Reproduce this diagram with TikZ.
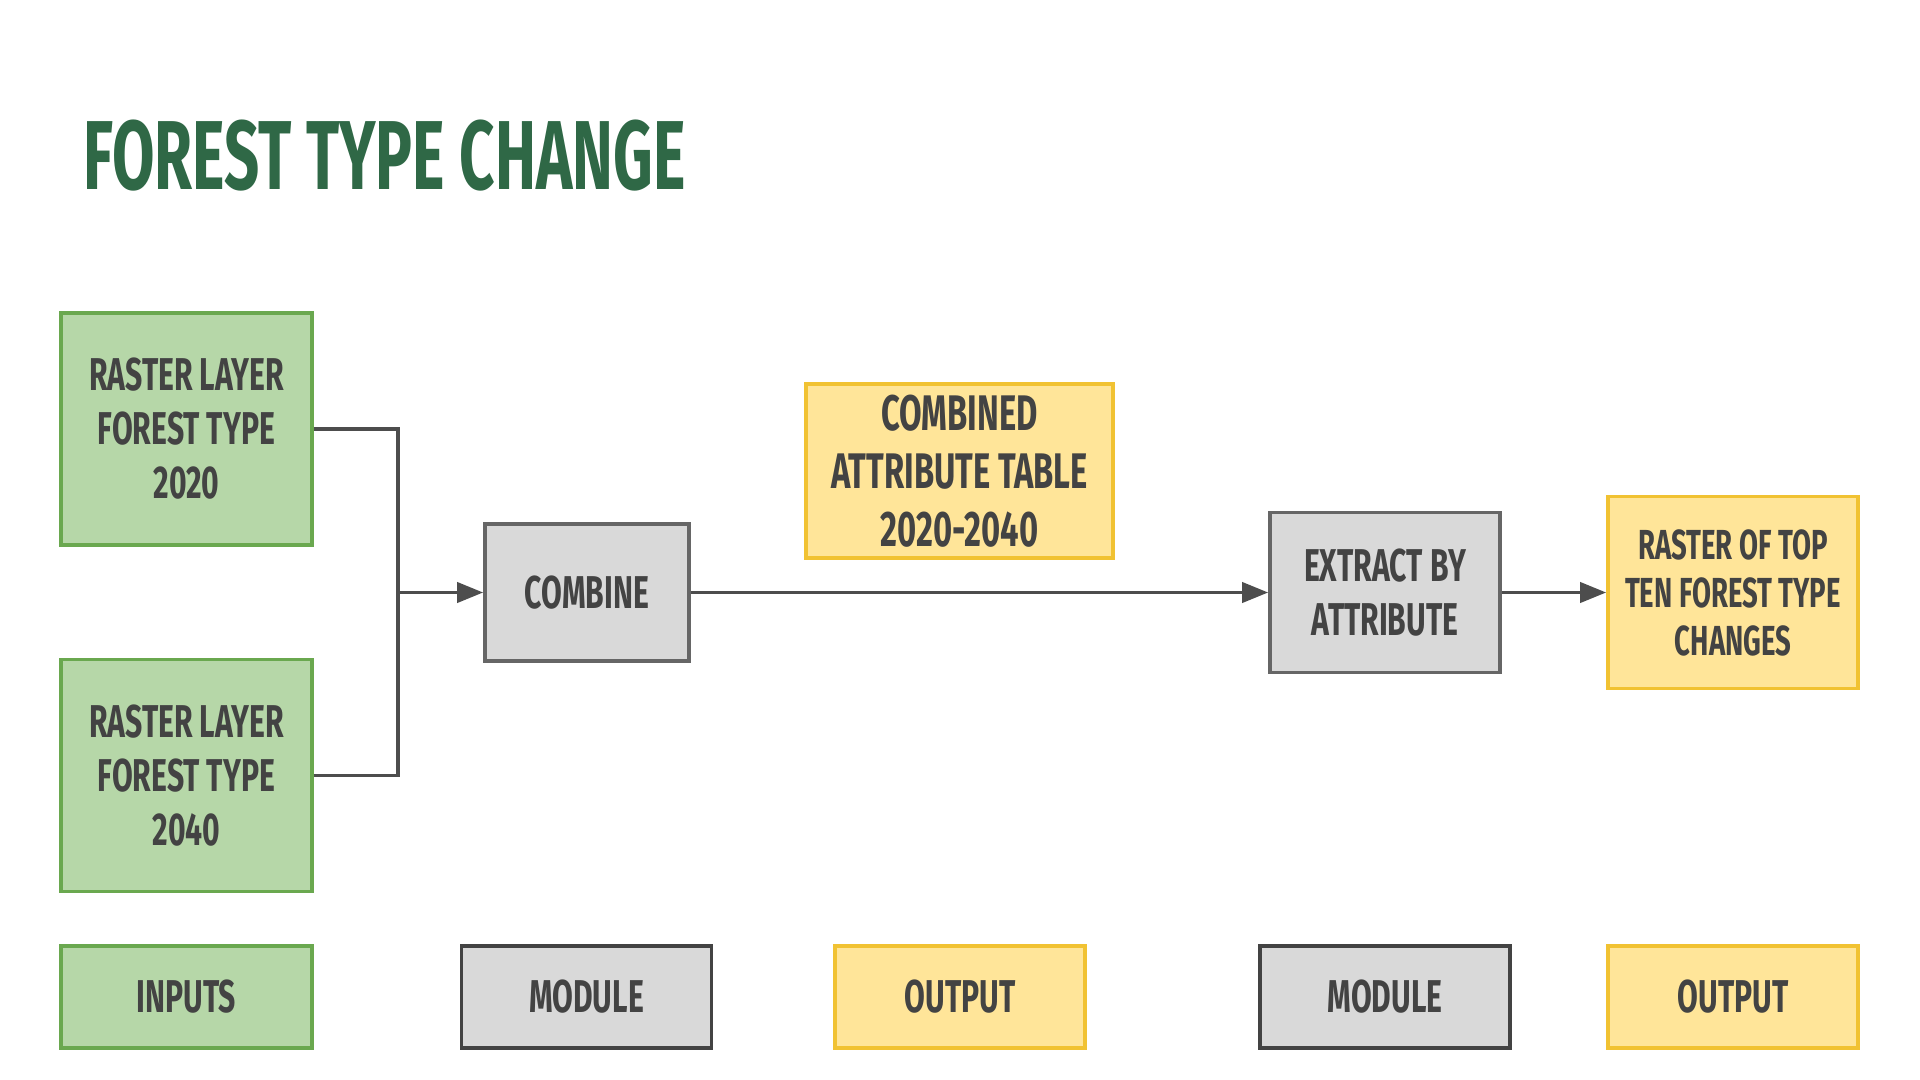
\documentclass[tikz,border=0pt]{standalone}
\usepackage{fontspec}
\usetikzlibrary{arrows.meta}
\newfontfamily\condfont{Fira Sans}[FakeStretch=0.655]
\newfontfamily\titlefont{Fira Sans}[FakeStretch=0.628]
\definecolor{titlegreen}{HTML}{2F6846}
\definecolor{gfill}{HTML}{B6D7A8}
\definecolor{gline}{HTML}{6AA84F}
\definecolor{grayfill}{HTML}{D9D9D9}
\definecolor{grayline}{HTML}{666666}
\definecolor{darkline}{HTML}{434343}
\definecolor{yfill}{HTML}{FFE599}
\definecolor{yline}{HTML}{F1C232}
\definecolor{txt}{HTML}{434343}
\definecolor{conn}{HTML}{4D4D4D}
\begin{document}
\begin{tikzpicture}[x=0.5pt,y=-0.5pt,
  box/.style={rectangle, line width=1.8pt, align=center, text=txt, inner sep=0pt,
    font=\condfont\bfseries\fontsize{23}{27}\selectfont},
  inbox/.style={box, draw=gline, fill=gfill},
  modbox/.style={box, draw=grayline, fill=grayfill},
  legmod/.style={box, draw=darkline, fill=grayfill},
  outbox/.style={box, draw=yline, fill=yfill},
  conn/.style={draw=conn, line width=1.9pt},
  arr/.style={conn, -{Triangle[length=13pt,width=10pt]}}
]
\useasboundingbox (0,0) rectangle (1920,1080);
\fill[white] (0,0) rectangle (1920,1080);
\node[anchor=base west, inner sep=0pt, text=titlegreen, font=\titlefont\bfseries\fontsize{49}{55}\selectfont] (title) at (83,190) {FOREST TYPE CHANGE};

\node[inbox, minimum width=125.5pt, minimum height=116pt] (r1) at (186.5,429) {RASTER LAYER\\FOREST TYPE\\2020};
\node[inbox, minimum width=125.5pt, minimum height=116pt] (r2) at (186.5,775.5) {RASTER LAYER\\FOREST TYPE\\2040};
\node[modbox, minimum width=102pt, minimum height=68.5pt] (comb) at (587,592.5) {COMBINE};
\node[outbox, minimum width=153.5pt, minimum height=87pt, font=\condfont\bfseries\fontsize{25}{29}\selectfont] (tab) at (959.5,471) {COMBINED\\ATTRIBUTE TABLE\\2020-2040};
\node[modbox, minimum width=115pt, minimum height=80pt] (ext) at (1385,592.5) {EXTRACT BY\\ATTRIBUTE};
\node[outbox, minimum width=125pt, minimum height=96pt, font=\condfont\bfseries\fontsize{21}{24}\selectfont] (ras) at (1733,592.5) {RASTER OF TOP\\TEN FOREST TYPE\\CHANGES};

\coordinate (bus) at (398,592.5);
\draw[conn] (r1.east) -| (bus);
\draw[conn] (r2.east) -| (bus);
\draw[arr] (bus) -- (comb.west);
\draw[arr] (comb.east) -- (ext.west);
\draw[arr] (ext.east) -- (ras.west);

\node[inbox, minimum width=125.5pt, minimum height=51pt] (l1) at (186.5,997) {INPUTS};
\node[legmod, minimum width=125pt, minimum height=51pt] (l2) at (586.5,997) {MODULE};
\node[outbox, minimum width=125pt, minimum height=51pt] (l3) at (960,997) {OUTPUT};
\node[legmod, minimum width=125pt, minimum height=51pt] (l4) at (1385,997) {MODULE};
\node[outbox, minimum width=125pt, minimum height=51pt] (l5) at (1733,997) {OUTPUT};
\end{tikzpicture}
\end{document}
